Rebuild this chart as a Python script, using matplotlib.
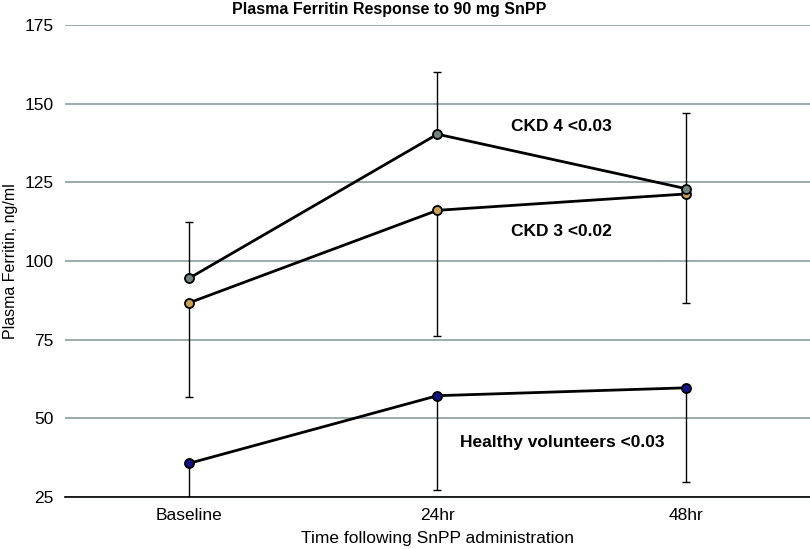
import matplotlib
matplotlib.use("Agg")
import matplotlib.pyplot as plt

plt.rcParams["font.family"] = ["Liberation Sans", "DejaVu Sans"]

# 数据：时间点与各组血浆铁蛋白均值及误差
time_labels = ["Baseline", "24hr", "48hr"]
ckd4_mean = [94.5, 140.3, 123.0]
ckd4_err_up = [18.0, 19.7, 24.0]
ckd3_mean = [86.7, 116.1, 121.3]
ckd3_err_down = [30.0, 40.0, 34.8]
healthy_mean = [35.7, 57.2, 59.7]
healthy_err_down = [30.0, 30.0, 29.8]

series_labels = ["CKD 4 <0.03", "CKD 3 <0.02", "Healthy volunteers <0.03"]
y_ticks = [25, 50, 75, 100, 125, 150, 175]

fig = plt.figure(figsize=(8.1, 5.49), dpi=100)
ax = fig.add_axes([0.080, 0.0947, 0.92, 0.8598])

x = list(range(len(time_labels)))
zeros = [0] * len(x)

# 误差线（单侧）
ax.errorbar(x, ckd4_mean, yerr=[zeros, ckd4_err_up], fmt="none",
            ecolor="black", elinewidth=1, capsize=3, capthick=1, zorder=2)
ax.errorbar(x, ckd3_mean, yerr=[ckd3_err_down, zeros], fmt="none",
            ecolor="black", elinewidth=1, capsize=3, capthick=1, zorder=2)
ax.errorbar(x, healthy_mean, yerr=[healthy_err_down, zeros], fmt="none",
            ecolor="black", elinewidth=1, capsize=3, capthick=1, zorder=2)

# 折线与标记
ax.plot(x, ckd4_mean, color="black", lw=2, marker="o", ms=6.5,
        mfc="#6f8580", mec="black", mew=1.3, zorder=4)
ax.plot(x, ckd3_mean, color="black", lw=2, marker="o", ms=6.5,
        mfc="#c9a055", mec="black", mew=1.3, zorder=3)
ax.plot(x, healthy_mean, color="black", lw=2, marker="o", ms=6.5,
        mfc="#14148a", mec="black", mew=1.3, zorder=3)

# 组别标注
ax.text(1.295, 142.7, series_labels[0], fontsize=12.5, fontweight="bold",
        va="center", ha="left")
ax.text(1.295, 109.3, series_labels[1], fontsize=12.5, fontweight="bold",
        va="center", ha="left")
ax.text(1.09, 42.3, series_labels[2], fontsize=12.5, fontweight="bold",
        va="center", ha="left")

ax.set_xlim(-0.5, 2.5)
ax.set_ylim(25, 175)
ax.set_xticks(x)
ax.set_xticklabels(time_labels, fontsize=12.5)
ax.set_yticks(y_ticks)
ax.set_yticklabels([str(v) for v in y_ticks], fontsize=12.5)
ax.tick_params(length=0, pad=8)

ax.grid(axis="y", color="#8a9e9e", lw=1.2)
ax.set_axisbelow(True)
for side in ["top", "right", "left"]:
    ax.spines[side].set_visible(False)
ax.spines["bottom"].set_color("black")
ax.spines["bottom"].set_linewidth(1.2)
ax.spines["bottom"].set_zorder(5)

# 标题在整张图上稍偏左居中
fig.text(0.481, 0.982, "Plasma Ferritin Response to 90 mg SnPP", fontsize=11.5,
         fontweight="bold", ha="center", va="center")
ax.set_xlabel("Time following SnPP administration", fontsize=12.5, labelpad=6)
ax.set_ylabel("Plasma Ferritin, ng/ml", fontsize=11.5)
ax.yaxis.set_label_coords(-0.0732, 0.5)
ax.yaxis.label.set_verticalalignment("center")

fig.savefig("out.png", dpi=100)
plt.close(fig)
